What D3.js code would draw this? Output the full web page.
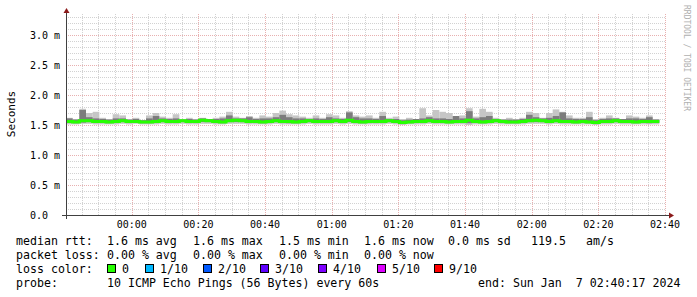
<!DOCTYPE html>
<html>
<head>
<meta charset="utf-8">
<script src="https://cdn.jsdelivr.net/npm/d3@7"></script>
<style>
  body { margin: 0; background: #fff; }
  svg text { font-family: "DejaVu Sans Mono", monospace; white-space: pre; }
</style>
</head>
<body>
<svg id="chart" width="697" height="297"></svg>
<script>
// 3 hour window, one sample every 2 minutes (values in milliseconds)
const startTime = new Date(Date.UTC(2024, 0, 6, 23, 40, 17))
const endTime = new Date(Date.UTC(2024, 0, 7, 2, 40, 17))
const stepMinutes = 2

const rttMedian = [
  1.56, 1.55, 1.57, 1.57, 1.56, 1.56, 1.55, 1.56, 1.57, 1.56,
  1.56, 1.55, 1.55, 1.56, 1.57, 1.56, 1.56, 1.57, 1.56, 1.56,
  1.58, 1.57, 1.56, 1.55, 1.57, 1.58, 1.57, 1.56, 1.56, 1.55,
  1.56, 1.57, 1.56, 1.56, 1.55, 1.56, 1.57, 1.56, 1.56, 1.56,
  1.57, 1.56, 1.58, 1.56, 1.55, 1.56, 1.56, 1.56, 1.57, 1.56,
  1.54, 1.55, 1.56, 1.56, 1.57, 1.56, 1.56, 1.55, 1.56, 1.56,
  1.58, 1.56, 1.55, 1.56, 1.57, 1.56, 1.55, 1.55, 1.56, 1.57,
  1.58, 1.57, 1.56, 1.57, 1.56, 1.56, 1.55, 1.56, 1.55, 1.54,
  1.56, 1.56, 1.57, 1.56, 1.56, 1.55, 1.56, 1.56, 1.56
]
const rttMax = [
  1.62, 1.60, 1.77, 1.70, 1.72, 1.62, 1.60, 1.68, 1.66, 1.60,
  1.62, 1.58, 1.66, 1.70, 1.64, 1.62, 1.68, 1.60, 1.62, 1.60,
  1.62, 1.60, 1.62, 1.64, 1.72, 1.64, 1.62, 1.65, 1.62, 1.66,
  1.64, 1.70, 1.74, 1.68, 1.66, 1.64, 1.62, 1.66, 1.62, 1.68,
  1.66, 1.62, 1.73, 1.66, 1.64, 1.66, 1.62, 1.72, 1.62, 1.64,
  1.60, 1.62, 1.60, 1.78, 1.66, 1.75, 1.72, 1.70, 1.64, 1.66,
  1.78, 1.64, 1.77, 1.72, 1.62, 1.60, 1.62, 1.60, 1.62, 1.72,
  1.70, 1.62, 1.70, 1.76, 1.72, 1.66, 1.62, 1.62, 1.72, 1.60,
  1.62, 1.66, 1.62, 1.60, 1.66, 1.64, 1.62, 1.66, 1.60
]
const rttHigh = [
  1.61, 1.59, 1.75, 1.63, 1.61, 1.60, 1.59, 1.61, 1.61, 1.59,
  1.60, 1.58, 1.61, 1.65, 1.61, 1.60, 1.61, 1.59, 1.60, 1.59,
  1.61, 1.60, 1.60, 1.61, 1.66, 1.61, 1.61, 1.63, 1.60, 1.61,
  1.61, 1.63, 1.67, 1.63, 1.61, 1.61, 1.60, 1.61, 1.60, 1.63,
  1.61, 1.60, 1.71, 1.63, 1.61, 1.61, 1.60, 1.65, 1.60, 1.60,
  1.58, 1.59, 1.60, 1.61, 1.63, 1.61, 1.61, 1.60, 1.65, 1.61,
  1.73, 1.61, 1.63, 1.65, 1.60, 1.59, 1.59, 1.59, 1.60, 1.67,
  1.63, 1.61, 1.62, 1.65, 1.71, 1.61, 1.60, 1.60, 1.63, 1.58,
  1.60, 1.61, 1.61, 1.60, 1.61, 1.61, 1.60, 1.63, 1.59
]
const rttLow = [
  1.54, 1.53, 1.54, 1.55, 1.54, 1.54, 1.53, 1.54, 1.55, 1.54,
  1.54, 1.53, 1.53, 1.54, 1.55, 1.54, 1.54, 1.55, 1.54, 1.54,
  1.55, 1.55, 1.54, 1.53, 1.55, 1.55, 1.55, 1.54, 1.54, 1.53,
  1.54, 1.55, 1.54, 1.53, 1.53, 1.54, 1.55, 1.54, 1.54, 1.54,
  1.55, 1.54, 1.55, 1.54, 1.53, 1.54, 1.54, 1.54, 1.55, 1.54,
  1.52, 1.53, 1.54, 1.54, 1.55, 1.54, 1.54, 1.53, 1.54, 1.54,
  1.53, 1.54, 1.53, 1.54, 1.55, 1.54, 1.53, 1.53, 1.54, 1.55,
  1.55, 1.55, 1.54, 1.55, 1.54, 1.54, 1.53, 1.54, 1.53, 1.52,
  1.54, 1.54, 1.55, 1.54, 1.54, 1.53, 1.54, 1.53, 1.54
]
const rttMin = [
  1.51, 1.51, 1.52, 1.52, 1.51, 1.51, 1.51, 1.51, 1.52, 1.51,
  1.52, 1.51, 1.51, 1.51, 1.52, 1.51, 1.51, 1.52, 1.51, 1.51,
  1.52, 1.52, 1.51, 1.51, 1.52, 1.52, 1.52, 1.51, 1.51, 1.51,
  1.51, 1.52, 1.51, 1.51, 1.51, 1.51, 1.52, 1.51, 1.51, 1.51,
  1.52, 1.51, 1.52, 1.51, 1.51, 1.51, 1.51, 1.51, 1.52, 1.51,
  1.50, 1.51, 1.51, 1.51, 1.52, 1.51, 1.51, 1.51, 1.51, 1.51,
  1.50, 1.51, 1.51, 1.51, 1.52, 1.51, 1.51, 1.51, 1.51, 1.52,
  1.52, 1.52, 1.51, 1.52, 1.51, 1.51, 1.51, 1.51, 1.51, 1.50,
  1.51, 1.51, 1.52, 1.51, 1.51, 1.51, 1.51, 1.51, 1.51
]

const yTicks = [0, 0.5, 1.0, 1.5, 2.0, 2.5, 3.0]

const lossLabels = ["0", "1/10", "2/10", "3/10", "4/10", "5/10", "9/10"]
const lossColors = ["#26ff00", "#00b8ff", "#0059ff", "#5e00ff", "#7e00ff", "#dd00ff", "#ff0000"]
const lossX = [107, 145, 203, 260, 318, 377, 434]

const rttItems = ["1.6 ms avg", "1.6 ms max", "1.5 ms min", "1.6 ms now", "0.0 ms sd", "119.5", "am/s"]
const rttItemX = [107, 193, 279, 364, 448, 531, 586]
const lossItems = ["0.00 % avg", "0.00 % max", "0.00 % min", "0.00 % now"]
const lossItemX = [107, 193, 279, 364]
const probeText = "10 ICMP Echo Pings (56 Bytes) every 60s"
const endText = "end: Sun Jan  7 02:40:17 2024"

const svg = d3.select("#chart")

const x = d3.scaleUtc().domain([startTime, endTime]).range([66, 666])
const y = d3.scaleLinear().domain([0, 3.367]).range([215, 13])

const times = rttMedian.map((_, i) => new Date(+startTime + i * stepMinutes * 60000))
const nextTime = t => new Date(+t + stepMinutes * 60000)

// grid
const grid = svg.append("g")
const minorX = d3.utcMinute.every(5).range(startTime, new Date(+endTime + 1000))
const majorX = d3.utcMinute.every(20).range(startTime, new Date(+endTime + 1000))

grid.selectAll("line.vminor").data(minorX).enter().append("line")
  .attr("x1", d => Math.round(x(d)) + 0.5).attr("x2", d => Math.round(x(d)) + 0.5)
  .attr("y1", 215).attr("y2", 13)
  .attr("stroke", "#d2d2d2").attr("stroke-dasharray", "1,1")

grid.selectAll("line.hminor").data(d3.range(1, 34).map(d => d / 10)).enter().append("line")
  .attr("x1", 66).attr("x2", 666)
  .attr("y1", d => Math.round(y(d)) + 0.5).attr("y2", d => Math.round(y(d)) + 0.5)
  .attr("stroke", "#d2d2d2").attr("stroke-dasharray", "1,1")

grid.selectAll("line.vmajor").data(majorX).enter().append("line")
  .attr("x1", d => Math.round(x(d)) + 0.5).attr("x2", d => Math.round(x(d)) + 0.5)
  .attr("y1", 215).attr("y2", 13)
  .attr("stroke", "#e8b0b0").attr("stroke-dasharray", "1,1")

grid.selectAll("line.hmajor").data(yTicks.slice(1)).enter().append("line")
  .attr("x1", 66).attr("x2", 666)
  .attr("y1", d => Math.round(y(d)) + 0.5).attr("y2", d => Math.round(y(d)) + 0.5)
  .attr("stroke", "#e8b0b0").attr("stroke-dasharray", "1,1")

// smoke
const smoke = svg.append("g")
smoke.selectAll("rect.outer").data(times).enter().append("rect")
  .attr("x", d => x(d)).attr("width", d => x(nextTime(d)) - x(d))
  .attr("y", (d, i) => y(rttMax[i])).attr("height", (d, i) => y(rttMin[i]) - y(rttMax[i]))
  .attr("fill", "#c6c6c6")
smoke.selectAll("rect.inner").data(times).enter().append("rect")
  .attr("x", d => x(d)).attr("width", d => x(nextTime(d)) - x(d))
  .attr("y", (d, i) => y(rttHigh[i])).attr("height", (d, i) => y(rttLow[i]) - y(rttHigh[i]))
  .attr("fill", "#7c7c7c")

// median
const medianPts = times.map((t, i) => [t, rttMedian[i]])
medianPts.push([nextTime(times[times.length - 1]), rttMedian[rttMedian.length - 1]])
svg.append("path")
  .datum(medianPts)
  .attr("fill", "none")
  .attr("stroke", lossColors[0])
  .attr("stroke-width", 3)
  .attr("d", d3.line().x(d => x(d[0])).y(d => y(d[1])).curve(d3.curveStepAfter))

// axes
svg.append("line").attr("x1", 66.5).attr("x2", 66.5).attr("y1", 219).attr("y2", 12)
  .attr("stroke", "#404040")
svg.append("line").attr("x1", 62).attr("x2", 670).attr("y1", 215.5).attr("y2", 215.5)
  .attr("stroke", "#404040")
svg.append("path").attr("d", "M63.5,13 L66.5,8 L69.5,13 Z").attr("fill", "#8b1a1a")
svg.append("path").attr("d", "M669,212.5 L674,215.5 L669,218.5 Z").attr("fill", "#8b1a1a")

svg.append("g").selectAll("text").data(yTicks).enter().append("text")
  .attr("x", 30).attr("y", d => y(d) + 3.5)
  .attr("font-size", 10)
  .text(d => d === 0 ? "0.0" : d.toFixed(1) + " m")

const fmt = d3.utcFormat("%H:%M")
svg.append("g").selectAll("text").data(majorX.filter(d => x(d) > 80)).enter().append("text")
  .attr("x", d => x(d)).attr("y", 228)
  .attr("text-anchor", "middle").attr("font-size", 10)
  .text(fmt)

svg.append("text")
  .attr("transform", "translate(15,114) rotate(-90)")
  .attr("text-anchor", "middle").attr("font-size", 11)
  .text("Seconds")

svg.append("text")
  .attr("transform", "translate(684,5) rotate(90)")
  .attr("font-size", 8).attr("fill", "#b0b0b0")
  .text("RRDTOOL / TOBI OETIKER")

// legend
const legend = svg.append("g").attr("font-size", 11.6)
legend.append("text").attr("x", 16).attr("y", 245).text("median rtt:")
legend.selectAll("text.rtt").data(rttItems).enter().append("text")
  .attr("x", (d, i) => rttItemX[i]).attr("y", 245).text(d => d)

legend.append("text").attr("x", 16).attr("y", 259).text("packet loss:")
legend.selectAll("text.loss").data(lossItems).enter().append("text")
  .attr("x", (d, i) => lossItemX[i]).attr("y", 259).text(d => d)

legend.append("text").attr("x", 16).attr("y", 273).text("loss color:")
legend.selectAll("rect.sw").data(lossColors).enter().append("rect")
  .attr("x", (d, i) => lossX[i] + 0.5).attr("y", 264.5).attr("width", 8).attr("height", 8)
  .attr("fill", d => d).attr("stroke", "#000")
legend.selectAll("text.sw").data(lossLabels).enter().append("text")
  .attr("x", (d, i) => lossX[i] + 15).attr("y", 273).text(d => d)

legend.append("text").attr("x", 16).attr("y", 287).text("probe:")
legend.append("text").attr("x", 107).attr("y", 287).text(probeText)
legend.append("text").attr("x", 478).attr("y", 287).text(endText)
</script>
</body>
</html>
